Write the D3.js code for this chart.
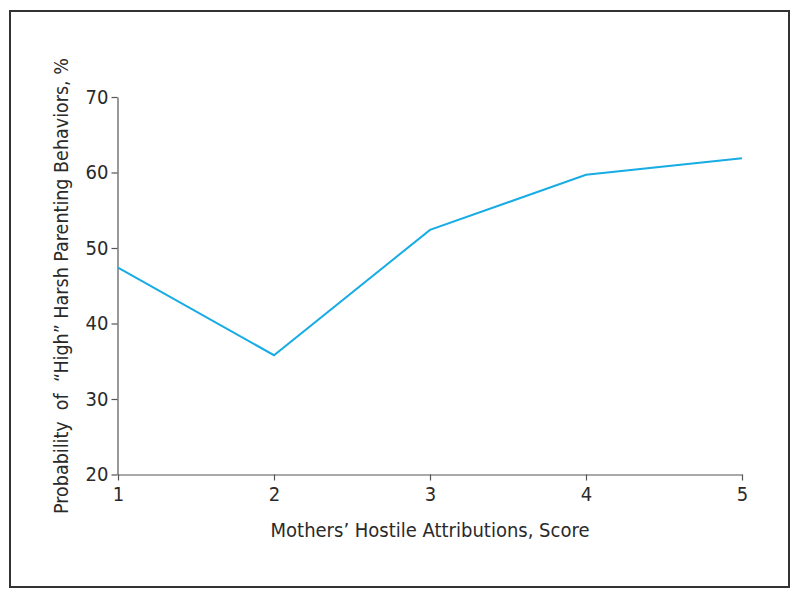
<!DOCTYPE html>
<html><head><meta charset="utf-8">
<script src="https://cdn.jsdelivr.net/npm/d3@7"></script>
<style>
body{margin:0;background:#fff;}
svg{display:block;}
text{font-family:"Liberation Sans Narrow","DejaVu Sans Condensed","Roboto",sans-serif;fill:#2a2a2a;}
</style></head>
<body>
<script>
const scores = [1, 2, 3, 4, 5];
const probability = [47.4, 35.8, 52.4, 59.7, 61.9];
const yTicks = [20, 30, 40, 50, 60, 70];
const xTicks = [1, 2, 3, 4, 5];
const xTitle = "Mothers\u2019 Hostile Attributions, Score";
const yTitle = "Probability  of  \u201cHigh\u201d Harsh Parenting Behaviors, %";

const W = 800, H = 598;
const svg = d3.select("body").append("svg").attr("width", W).attr("height", H);

svg.append("rect").attr("x", 10).attr("y", 11).attr("width", 779).attr("height", 576)
  .attr("fill", "none").attr("stroke", "#333").attr("stroke-width", 2);

const x = d3.scaleLinear().domain([1, 5]).range([118, 742]);
const y = d3.scaleLinear().domain([20, 70]).range([474.5, 97]);

const xAxis = svg.append("g").attr("transform", "translate(0,474.5)")
  .call(d3.axisBottom(x).tickValues(xTicks).tickFormat(d3.format("d")).tickSize(6).tickSizeOuter(0));
const yAxis = svg.append("g").attr("transform", "translate(117.5,0)")
  .call(d3.axisLeft(y).tickValues(yTicks).tickFormat(d3.format("d")).tickSize(6).tickSizeOuter(0));

[xAxis, yAxis].forEach(g => {
  g.select(".domain").attr("stroke", "#555").attr("stroke-width", 1.2);
  g.selectAll(".tick line").attr("stroke", "#555").attr("stroke-width", 1.2);
  g.selectAll(".tick text").style("font-size", "20px").attr("fill", "#2a2a2a")
    .style("font-family", "\"Liberation Sans Narrow\",\"DejaVu Sans Condensed\",sans-serif");
});
xAxis.selectAll(".tick text").attr("dy", "0.85em");
yAxis.selectAll(".tick text").attr("x", -9);

const line = d3.line().x((d, i) => x(scores[i])).y(d => y(d));
svg.append("path").datum(probability).attr("d", line)
  .attr("fill", "none").attr("stroke", "#18ace4").attr("stroke-width", 2);

svg.append("text").attr("x", 430).attr("y", 537).attr("text-anchor", "middle")
  .style("font-size", "20px").text(xTitle);
svg.append("text").attr("transform", "translate(68,286) rotate(-90)").attr("text-anchor", "middle")
  .style("font-size", "19.5px").style("white-space", "pre").attr("xml:space", "preserve").text(yTitle);
</script>
</body></html>
